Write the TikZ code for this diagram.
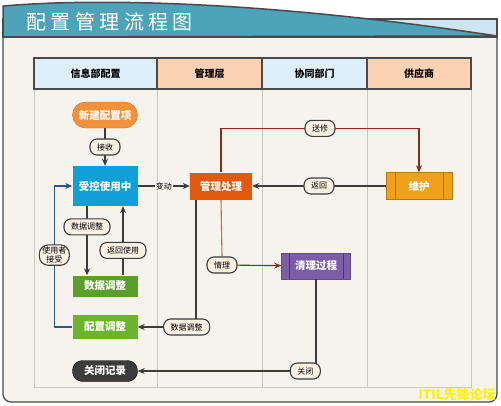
\documentclass[tikz,border=0pt]{standalone}
\usepackage{fontspec}
\setmainfont{Noto Sans CJK SC}
\newfontfamily\titlefont[LetterSpace=22]{Noto Sans CJK SC}
\usetikzlibrary{arrows.meta, positioning, calc}

\definecolor{bandteal}{HTML}{4DA3B8}
\definecolor{bandlight}{HTML}{CFE6F2}
\definecolor{framebg}{HTML}{F5F3EC}
\definecolor{framegray}{HTML}{4A4A4A}
\definecolor{headblue}{HTML}{DCEFFA}
\definecolor{headpeach}{HTML}{FBD3B3}
\definecolor{lanegray}{HTML}{C8C8C4}
\definecolor{linegray}{HTML}{3C3C3C}
\definecolor{tagfill}{HTML}{FBF0E4}
\definecolor{useblue}{HTML}{10A0D8}
\definecolor{mgrorange}{HTML}{E2580C}
\definecolor{fixorange}{HTML}{F0A01A}
\definecolor{neworange}{HTML}{F0923C}
\definecolor{datagreen}{HTML}{5A9E2C}
\definecolor{cfggreen}{HTML}{6CB42C}
\definecolor{cleanpurple}{HTML}{7B5EA7}
\definecolor{closegray}{HTML}{3C3C3C}
\definecolor{sendred}{HTML}{8A2A18}
\definecolor{cleanbrown}{HTML}{C0704C}
\definecolor{backblue}{HTML}{2D5590}

\begin{document}
\begin{tikzpicture}[x=1pt, y=-1pt,
    box/.style={minimum width=65pt, inner sep=2pt, text=white,
      font=\fontsize{10.5}{12}\selectfont\bfseries},
    tag/.style={draw=linegray, line width=1.1pt, fill=tagfill, rounded corners=7pt,
      inner xsep=7pt, inner ysep=2pt, minimum height=16pt, text=black,
      font=\fontsize{8}{9}\selectfont},
    head/.style={draw=framegray, line width=1.2pt, minimum height=31pt,
      font=\fontsize{10}{12}\selectfont\bfseries},
    flow/.style={draw=linegray, line width=1.1pt, -{Stealth[length=7pt,width=6pt]}}]

  \useasboundingbox (0,0) rectangle (501,405);

  % frame and title band
  \draw[framegray, line width=1.3pt, fill=framebg, rounded corners=8pt]
    (3,37) -- (3,402) -- (497,402) -- (497,37);
  \draw[framegray, line width=1.3pt, fill=bandlight] (3,19) rectangle (497,37);
  \draw[framegray, line width=1.5pt, fill=bandteal]
    (3,37) -- (3,6) .. controls (120,-4) and (300,6) .. (497,36) -- cycle;
  \node[anchor=west, text=white] (title) at (23,21.5)
    {\titlefont\fontsize{20}{22}\selectfont 配置管理流程图};

  % swimlanes
  \draw[lanegray, line width=1pt] (34,89) rectangle (471,387);
  \foreach \x in {157,262,367}
    \draw[lanegray, line width=1pt] (\x,89) -- (\x,387);
  \node[head, fill=headblue, minimum width=123pt] (lane1) at (95.5,73.5) {信息部配置};
  \node[head, fill=headpeach, minimum width=105pt] (lane2) at (209.5,73.5) {管理层};
  \node[head, fill=headblue, minimum width=105pt] (lane3) at (314.5,73.5) {协同部门};
  \node[head, fill=headpeach, minimum width=104pt] (lane4) at (419,73.5) {供应商};

  % steps
  \node[box, fill=neworange, draw=neworange!80!black, rounded corners=13pt,
    minimum height=26pt] (newitem) at (105,115) {新建配置项};
  \node[box, fill=useblue, minimum height=40pt] (inuse) at (105,186) {受控使用中};
  \node[box, fill=mgrorange, minimum width=62pt, minimum height=27pt] (manage) at (221,186) {管理处理};
  \node[box, fill=fixorange, draw=fixorange!75!black, minimum width=66pt,
    minimum height=27pt] (repair) at (419,186) {维护};
  \draw[fixorange!70!black] ([xshift=9pt]repair.north west) -- ([xshift=9pt]repair.south west)
    ([xshift=-9pt]repair.north east) -- ([xshift=-9pt]repair.south east);
  \node[box, fill=datagreen, minimum height=21pt] (dataadj) at (105,286) {数据调整};
  \node[box, fill=cfggreen, minimum height=24pt] (cfgadj) at (105,327) {配置调整};
  \node[box, fill=cleanpurple, draw=cleanpurple!80!black, minimum width=69pt,
    minimum height=26pt] (cleanup) at (316,266) {清理过程};
  \draw[cleanpurple!60!black] ([xshift=8pt]cleanup.north west) -- ([xshift=8pt]cleanup.south west)
    ([xshift=-8pt]cleanup.north east) -- ([xshift=-8pt]cleanup.south east);
  \node[box, fill=closegray, draw=black, rounded corners=10pt, minimum height=21pt]
    (closerec) at (105,371) {关闭记录};

  % connectors
  \draw[flow] (newitem) -- node[tag] {接收} (inuse);
  \draw[flow] (inuse) -- node[fill=framebg, inner sep=1pt, font=\fontsize{8}{9}\selectfont] {变动} (manage);
  \draw[flow, draw=sendred] (manage.north) -- ++(0,-44) -| node[tag, pos=0.25] {送修} (repair.north);
  \draw[flow] (repair) -- node[tag] {返回} (manage);
  \draw[flow] ([xshift=-18pt]inuse.south) -- node[tag, pos=0.3] {数据调整} ([xshift=-18pt]dataadj.north);
  \draw[flow] ([xshift=18pt]dataadj.north) -- node[tag, pos=0.36] {返回使用} ([xshift=18pt]inuse.south);
  \draw[flow, draw=backblue] (cfgadj.west) -- ++(-18,0) |- node[tag, pos=0.255, inner xsep=3pt,
    align=center, rounded corners=9pt, font=\fontsize{8}{9}\selectfont] {使用者\\接受} (inuse.west);
  \draw[flow] ([xshift=-25pt]manage.south) |- node[tag, pos=0.58] {数据调整} (cfgadj.east);
  \node[tag] (qingli) at (222,265) {情理};
  \draw[cleanbrown, line width=1.1pt] (manage.south) -- (qingli.north);
  \draw[flow, draw=sendred] (qingli) -- (cleanup);
  \draw[flow] (cleanup.south) |- node[tag, pos=0.53] {关闭} (closerec.east);

  % watermark
  \node[text=yellow, font=\fontsize{13}{14}\selectfont\bfseries] (mark) at (457,395) {ITIL先锋论坛};
\end{tikzpicture}
\end{document}
